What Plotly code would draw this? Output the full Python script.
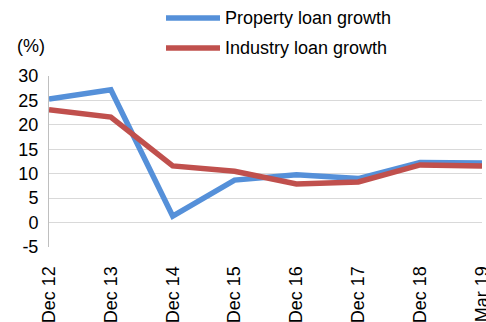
import plotly.graph_objects as go

categories = ["Dec 12", "Dec 13", "Dec 14", "Dec 15", "Dec 16", "Dec 17", "Dec 18", "Mar 19"]
property_growth = [25.3, 27.2, 1.3, 8.7, 9.8, 9.0, 12.3, 12.2]
industry_growth = [23.1, 21.6, 11.6, 10.5, 7.9, 8.3, 11.8, 11.6]
series_names = ["Property loan growth", "Industry loan growth"]
y_ticks = [-5, 0, 5, 10, 15, 20, 25, 30]
y_ticktext = ["-5", "0", "5", "10", "15", "20", "25", "30"]

BLUE = "#5590D9"
RED = "#C0504D"
FONT = "Liberation Sans, Arial, sans-serif"
FS = 18

fig = go.Figure()
for name, vals, col in [(series_names[0], property_growth, BLUE),
                        (series_names[1], industry_growth, RED)]:
    fig.add_trace(go.Scatter(x=list(range(len(categories))), y=vals, mode="lines",
                             name=name, line=dict(color=col, width=5.5),
                             showlegend=False, cliponaxis=False))

# manual legend
for i, (name, col) in enumerate([(series_names[0], BLUE), (series_names[1], RED)]):
    ypix = 18 + 30 * i
    fig.add_shape(type="line", xref="paper", yref="paper",
                  x0=(166 - 49) / 433, x1=(220 - 49) / 433,
                  y0=(247 - ypix) / 171, y1=(247 - ypix) / 171,
                  line=dict(color=col, width=5.5))
    fig.add_annotation(xref="paper", yref="paper", x=(223 - 49) / 433, y=(247 - ypix) / 171,
                       text=name, showarrow=False, xanchor="left", yanchor="middle",
                       font=dict(size=FS, color="#000000", family=FONT))

fig.add_annotation(xref="paper", yref="paper", x=(15 - 49) / 433, y=(247 - 46) / 171,
                   text="(%)", showarrow=False, xanchor="left", yanchor="middle",
                   font=dict(size=FS, color="#000000", family=FONT))

fig.update_layout(
    width=486, height=322,
    margin=dict(l=49, r=4, t=76, b=75),
    paper_bgcolor="white", plot_bgcolor="white",
    font=dict(family=FONT, size=FS, color="#000000"),
    xaxis=dict(range=[0, 7], tickmode="array", tickvals=list(range(len(categories))),
               ticktext=categories, tickangle=-90, showgrid=False, zeroline=False,
               showline=False, ticks="outside", ticklen=11, tickcolor="rgba(0,0,0,0)",
               ticklabeloverflow="allow", automargin=False,
               tickfont=dict(size=FS, family=FONT, color="#000000")),
    yaxis=dict(range=[-5, 30], tickmode="array", tickvals=y_ticks, ticktext=y_ticktext,
               showgrid=True, gridcolor="#D9D9D9", gridwidth=1, zeroline=False,
               showline=True, linecolor="#BFBFBF", linewidth=1, automargin=False,
               ticks="outside", ticklen=6, tickcolor="rgba(0,0,0,0)",
               tickfont=dict(size=FS, family=FONT, color="#000000")),
)

fig.write_html("out.html")
